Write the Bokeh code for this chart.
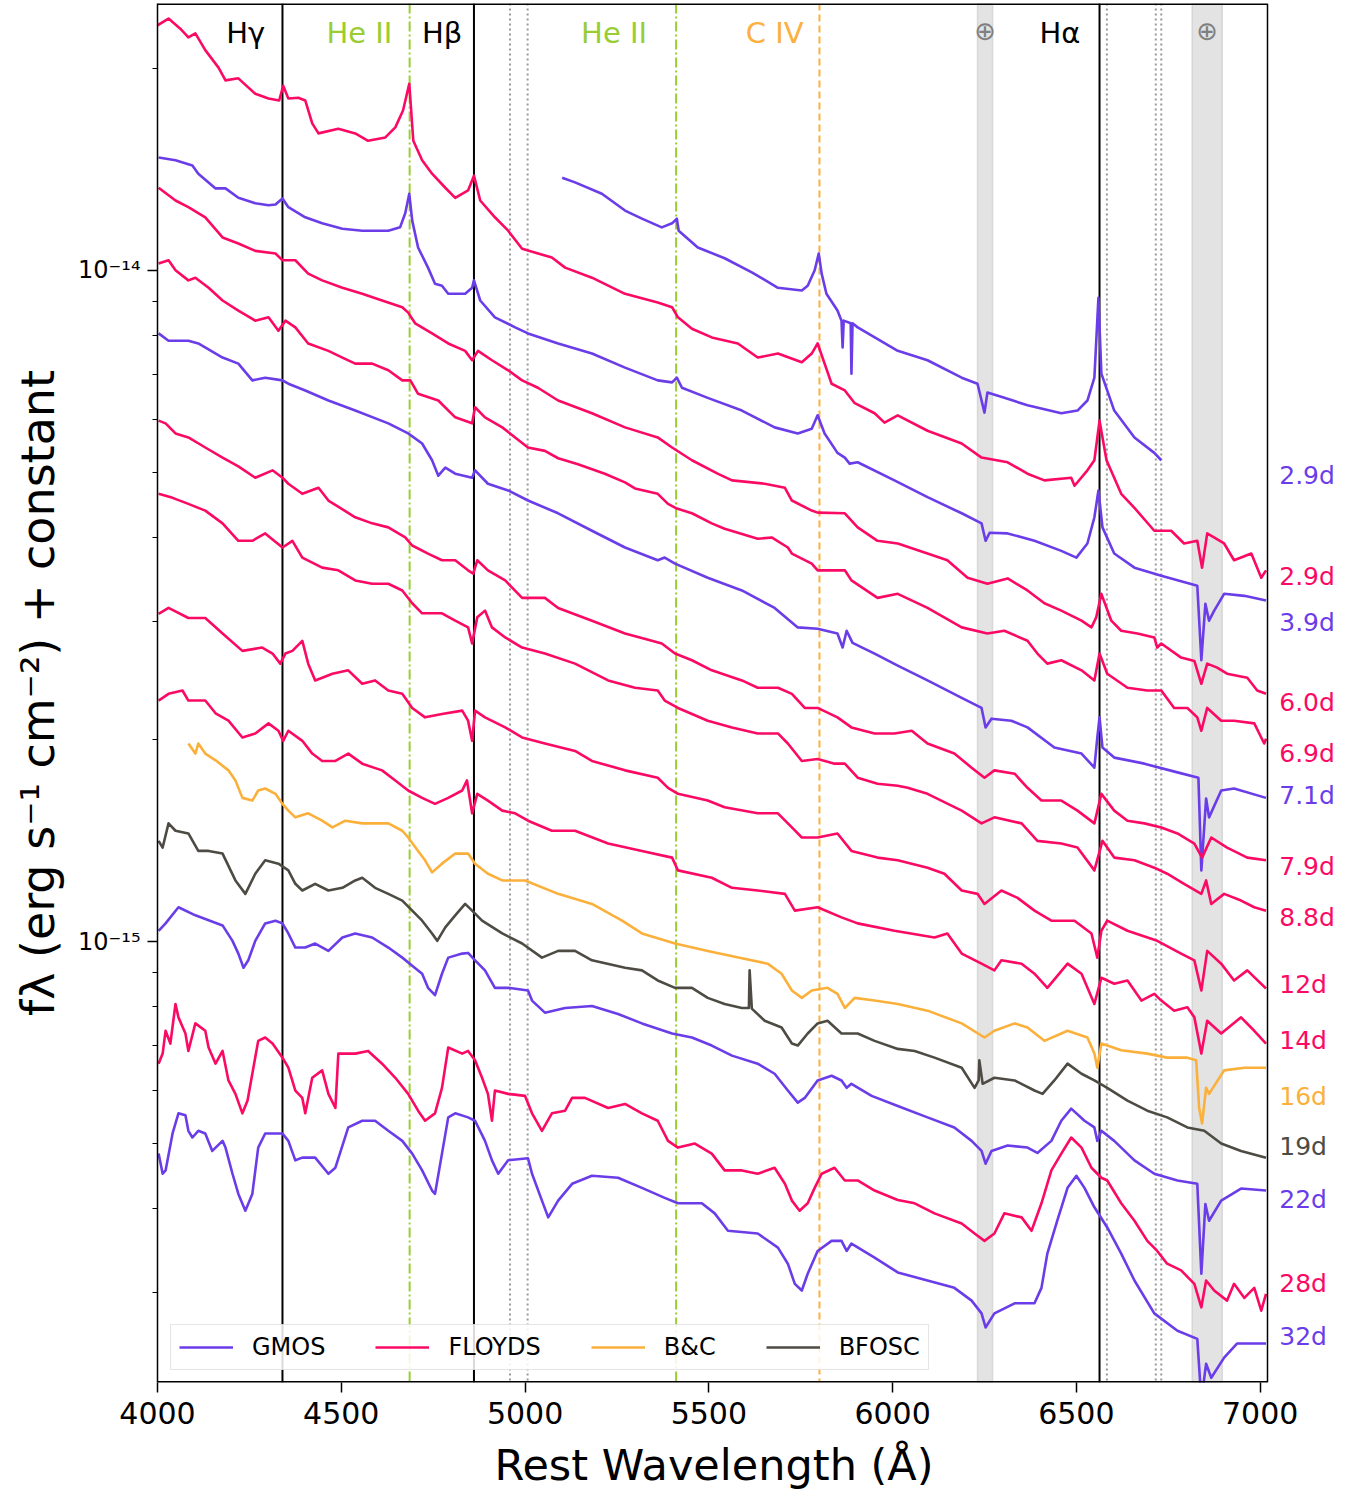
import numpy as np
from bokeh.plotting import figure
from bokeh.models import (Range1d, Span, BoxAnnotation, Label, Legend, LegendItem,
                          FixedTicker, CustomJSTickFormatter, ColumnDataSource)
from bokeh.core.properties import value
from bokeh.embed import file_html
from bokeh.resources import INLINE

# ---- spectra: (rest wavelength [A], log10 f_lambda + constant) ----
gmos_2p9d = [(5101,-13.862),(5136,-13.869),(5209,-13.886),(5272,-13.911),(5318,-13.923),(5372,-13.936),
    (5400,-13.930),(5413,-13.923),(5418,-13.941),(5470,-13.966),(5543,-13.982),(5617,-14.003),(5688,-14.026),
    (5753,-14.030),(5769,-14.023),(5788,-14.000),(5799,-13.975),(5807,-14.005),(5820,-14.035),(5850,-14.060),
    (5861,-14.075),(5864,-14.115),(5867,-14.075),(5886,-14.079),(5888,-14.154),(5891,-14.079),(5905,-14.085),
    (6014,-14.120),(6095,-14.134),(6188,-14.160),(6231,-14.169),(6250,-14.212),(6258,-14.182),(6304,-14.190),
    (6367,-14.201),(6459,-14.213),(6503,-14.209),(6530,-14.194),(6549,-14.160),(6560,-14.041),(6568,-14.154),
    (6603,-14.209),(6658,-14.249),(6712,-14.272),(6731,-14.283)]

floyds_2p9d = [(4000,-13.635),(4030,-13.625),(4062,-13.640),(4084,-13.653),(4103,-13.647),(4130,-13.672),
    (4166,-13.698),(4185,-13.717),(4220,-13.714),(4266,-13.737),(4302,-13.744),(4331,-13.747),(4342,-13.725),
    (4356,-13.744),(4383,-13.743),(4402,-13.747),(4421,-13.781),(4438,-13.796),(4492,-13.789),(4538,-13.796),
    (4573,-13.807),(4620,-13.802),(4647,-13.787),(4668,-13.762),(4685,-13.722),(4696,-13.807),(4720,-13.836),
    (4747,-13.856),(4783,-13.877),(4810,-13.892),(4845,-13.881),(4861,-13.859),(4878,-13.896),(4918,-13.921),
    (4954,-13.941),(4992,-13.968),(5073,-13.981),(5109,-13.996),(5182,-14.011),(5272,-14.035),(5361,-14.048),
    (5400,-14.055),(5416,-14.070),(5454,-14.087),(5508,-14.100),(5579,-14.109),(5633,-14.130),(5688,-14.124),
    (5753,-14.137),(5780,-14.124),(5796,-14.109),(5815,-14.139),(5834,-14.169),(5870,-14.179),(5897,-14.198),
    (5951,-14.213),(5978,-14.227),(6014,-14.216),(6095,-14.239),(6188,-14.258),(6242,-14.279),(6313,-14.286),
    (6367,-14.303),(6413,-14.313),(6486,-14.309),(6495,-14.321),(6530,-14.298),(6549,-14.283),(6563,-14.224),
    (6582,-14.283),(6622,-14.333),(6658,-14.354),(6712,-14.388),(6758,-14.388),(6793,-14.407),(6829,-14.403),
    (6842,-14.443),(6856,-14.392),(6902,-14.407),(6929,-14.432),(6976,-14.422),(7003,-14.458),(7016,-14.447)]

gmos_3p9d = [(4003,-13.832),(4049,-13.836),(4095,-13.844),(4111,-13.856),(4158,-13.878),(4185,-13.878),
    (4220,-13.892),(4266,-13.900),(4302,-13.903),(4321,-13.902),(4340,-13.893),(4356,-13.906),(4402,-13.921),
    (4448,-13.930),(4503,-13.938),(4557,-13.941),(4628,-13.941),(4660,-13.936),(4674,-13.915),(4685,-13.886),
    (4693,-13.926),(4709,-13.966),(4736,-13.996),(4755,-14.020),(4774,-14.023),(4791,-14.035),(4837,-14.035),
    (4856,-14.026),(4861,-14.015),(4878,-14.045),(4918,-14.070),(4973,-14.085),(5008,-14.094),(5090,-14.109),
    (5182,-14.124),(5272,-14.145),(5361,-14.164),(5400,-14.167),(5413,-14.160),(5427,-14.175),(5497,-14.190),
    (5590,-14.209),(5679,-14.234),(5742,-14.243),(5780,-14.236),(5796,-14.216),(5815,-14.243),(5850,-14.272),
    (5870,-14.279),(5883,-14.288),(5905,-14.286),(6005,-14.313),(6095,-14.338),(6188,-14.362),(6242,-14.377),
    (6253,-14.403),(6264,-14.391),(6313,-14.392),(6386,-14.403),(6459,-14.418),(6500,-14.428),(6530,-14.407),
    (6549,-14.368),(6560,-14.328),(6571,-14.383),(6603,-14.422),(6658,-14.443),(6731,-14.455),(6829,-14.470),
    (6840,-14.581),(6851,-14.497),(6861,-14.522),(6875,-14.507),(6902,-14.482),(6957,-14.485),(7016,-14.492)]

floyds_6p0d = [(4003,-13.877),(4049,-13.896),(4084,-13.906),(4130,-13.921),(4177,-13.951),(4220,-13.960),
    (4266,-13.971),(4321,-13.975),(4340,-13.985),(4375,-13.985),(4410,-14.005),(4448,-14.015),(4503,-14.026),
    (4557,-14.035),(4611,-14.045),(4666,-14.055),(4682,-14.063),(4701,-14.079),(4747,-14.094),(4791,-14.109),
    (4837,-14.120),(4856,-14.134),(4872,-14.120),(4910,-14.134),(4954,-14.149),(4992,-14.164),(5035,-14.175),
    (5090,-14.194),(5182,-14.213),(5272,-14.234),(5361,-14.249),(5400,-14.264),(5454,-14.283),(5524,-14.303),
    (5563,-14.313),(5652,-14.318),(5707,-14.324),(5726,-14.343),(5780,-14.358),(5796,-14.361),(5870,-14.362),
    (5905,-14.383),(5959,-14.403),(6014,-14.407),(6095,-14.422),(6149,-14.432),(6204,-14.458),(6258,-14.467),
    (6313,-14.459),(6367,-14.477),(6413,-14.496),(6459,-14.507),(6514,-14.522),(6541,-14.532),(6554,-14.517),
    (6568,-14.482),(6595,-14.522),(6622,-14.537),(6666,-14.541),(6712,-14.547),(6720,-14.562),(6731,-14.556),
    (6785,-14.577),(6821,-14.582),(6840,-14.616),(6856,-14.586),(6883,-14.592),(6910,-14.601),(6965,-14.607),
    (6992,-14.626),(7016,-14.631)]

floyds_6p9d = [(4003,-13.990),(4030,-13.985),(4049,-14.000),(4084,-14.015),(4103,-14.011),(4139,-14.026),
    (4177,-14.045),(4220,-14.060),(4266,-14.075),(4302,-14.070),(4329,-14.090),(4348,-14.075),(4375,-14.085),
    (4410,-14.109),(4465,-14.120),(4503,-14.130),(4538,-14.139),(4584,-14.139),(4628,-14.149),(4666,-14.164),
    (4688,-14.164),(4709,-14.184),(4764,-14.194),(4810,-14.219),(4856,-14.228),(4864,-14.204),(4891,-14.219),
    (4938,-14.234),(4973,-14.249),(5008,-14.264),(5054,-14.269),(5090,-14.280),(5144,-14.289),(5217,-14.303),
    (5272,-14.316),(5299,-14.325),(5361,-14.333),(5389,-14.348),(5413,-14.355),(5454,-14.362),(5508,-14.377),
    (5543,-14.385),(5633,-14.400),(5671,-14.398),(5715,-14.413),(5726,-14.422),(5780,-14.437),(5796,-14.447),
    (5870,-14.447),(5888,-14.462),(5959,-14.488),(6014,-14.482),(6095,-14.503),(6188,-14.532),(6258,-14.541),
    (6304,-14.537),(6367,-14.552),(6394,-14.571),(6421,-14.586),(6459,-14.581),(6514,-14.596),(6549,-14.611),
    (6563,-14.571),(6584,-14.601),(6639,-14.622),(6693,-14.626),(6731,-14.626),(6766,-14.652),(6802,-14.652),
    (6829,-14.666),(6840,-14.686),(6856,-14.652),(6894,-14.671),(6929,-14.671),(6984,-14.675),(7011,-14.705),
    (7016,-14.698)]

gmos_7p1d = [(4003,-14.094),(4030,-14.105),(4084,-14.105),(4111,-14.109),(4177,-14.130),(4220,-14.139),
    (4258,-14.164),(4293,-14.160),(4340,-14.164),(4356,-14.169),(4402,-14.179),(4465,-14.194),(4538,-14.209),
    (4628,-14.228),(4682,-14.243),(4720,-14.258),(4747,-14.283),(4764,-14.306),(4783,-14.294),(4810,-14.303),
    (4856,-14.309),(4864,-14.298),(4899,-14.318),(4954,-14.328),(5008,-14.343),(5090,-14.362),(5182,-14.388),
    (5272,-14.413),(5361,-14.432),(5380,-14.428),(5408,-14.437),(5497,-14.458),(5590,-14.477),(5679,-14.503),
    (5742,-14.532),(5796,-14.534),(5850,-14.541),(5864,-14.562),(5875,-14.537),(5891,-14.555),(5951,-14.571),
    (6014,-14.589),(6095,-14.611),(6188,-14.637),(6242,-14.652),(6253,-14.681),(6269,-14.668),(6323,-14.671),
    (6367,-14.681),(6440,-14.711),(6514,-14.720),(6549,-14.741),(6557,-14.696),(6563,-14.666),(6571,-14.711),
    (6603,-14.726),(6685,-14.735),(6775,-14.748),(6832,-14.756),(6840,-14.894),(6853,-14.787),(6861,-14.815),
    (6894,-14.775),(6929,-14.772),(7016,-14.786)]

floyds_7p9d = [(4003,-14.224),(4022,-14.228),(4049,-14.243),(4084,-14.249),(4130,-14.264),(4177,-14.279),
    (4220,-14.292),(4266,-14.309),(4313,-14.298),(4340,-14.309),(4356,-14.318),(4394,-14.333),(4438,-14.324),
    (4465,-14.343),(4538,-14.368),(4584,-14.377),(4628,-14.383),(4674,-14.398),(4693,-14.410),(4736,-14.422),
    (4774,-14.432),(4810,-14.432),(4845,-14.447),(4859,-14.452),(4870,-14.432),(4899,-14.447),(4946,-14.462),
    (4992,-14.488),(5054,-14.488),(5090,-14.503),(5182,-14.522),(5272,-14.541),(5345,-14.552),(5372,-14.556),
    (5408,-14.571),(5454,-14.581),(5508,-14.596),(5590,-14.611),(5633,-14.622),(5688,-14.622),(5726,-14.631),
    (5761,-14.652),(5796,-14.652),(5850,-14.666),(5888,-14.681),(5951,-14.690),(6005,-14.690),(6052,-14.686),
    (6095,-14.705),(6168,-14.720),(6215,-14.741),(6250,-14.756),(6277,-14.745),(6332,-14.750),(6367,-14.771),
    (6405,-14.790),(6459,-14.790),(6503,-14.805),(6549,-14.824),(6568,-14.780),(6603,-14.805),(6639,-14.820),
    (6685,-14.824),(6731,-14.830),(6775,-14.839),(6821,-14.854),(6842,-14.875),(6867,-14.845),(6910,-14.860),
    (6965,-14.875),(7016,-14.879)]

floyds_8p8d = [(4003,-14.333),(4041,-14.339),(4084,-14.348),(4130,-14.358),(4177,-14.377),(4220,-14.403),
    (4258,-14.403),(4293,-14.392),(4340,-14.413),(4367,-14.403),(4394,-14.428),(4448,-14.443),(4492,-14.447),
    (4538,-14.462),(4584,-14.467),(4628,-14.467),(4666,-14.477),(4693,-14.496),(4720,-14.511),(4774,-14.511),
    (4810,-14.522),(4845,-14.532),(4856,-14.556),(4870,-14.517),(4891,-14.507),(4910,-14.532),(4946,-14.547),
    (4992,-14.562),(5054,-14.571),(5136,-14.586),(5226,-14.611),(5299,-14.622),(5361,-14.626),(5380,-14.641),
    (5416,-14.652),(5497,-14.671),(5563,-14.681),(5633,-14.690),(5688,-14.690),(5715,-14.705),(5753,-14.731),
    (5796,-14.728),(5842,-14.735),(5870,-14.735),(5905,-14.756),(5959,-14.765),(6014,-14.768),(6041,-14.771),
    (6095,-14.780),(6188,-14.805),(6242,-14.824),(6277,-14.815),(6351,-14.824),(6394,-14.850),(6459,-14.854),
    (6503,-14.860),(6549,-14.894),(6571,-14.850),(6603,-14.875),(6658,-14.879),(6712,-14.890),(6747,-14.899),
    (6793,-14.914),(6840,-14.929),(6853,-14.909),(6867,-14.944),(6902,-14.929),(6948,-14.939),(6984,-14.949),
    (7016,-14.954)]

floyds_12d = [(4003,-14.512),(4030,-14.503),(4084,-14.518),(4130,-14.518),(4177,-14.541),(4231,-14.567),
    (4285,-14.562),(4313,-14.571),(4334,-14.586),(4348,-14.571),(4367,-14.567),(4394,-14.552),(4410,-14.586),
    (4429,-14.611),(4476,-14.601),(4519,-14.596),(4557,-14.616),(4592,-14.611),(4628,-14.626),(4666,-14.631),
    (4693,-14.652),(4728,-14.666),(4774,-14.661),(4829,-14.656),(4845,-14.671),(4856,-14.701),(4864,-14.656),
    (4891,-14.666),(4946,-14.681),(4992,-14.696),(5054,-14.705),(5136,-14.716),(5182,-14.731),(5272,-14.745),
    (5361,-14.756),(5389,-14.771),(5416,-14.780),(5497,-14.790),(5543,-14.800),(5633,-14.809),(5688,-14.809),
    (5726,-14.830),(5753,-14.845),(5796,-14.845),(5850,-14.839),(5888,-14.865),(5959,-14.875),(6014,-14.879),
    (6095,-14.890),(6141,-14.899),(6188,-14.924),(6231,-14.929),(6250,-14.944),(6296,-14.924),(6340,-14.935),
    (6386,-14.954),(6432,-14.969),(6495,-14.969),(6541,-14.988),(6557,-15.024),(6568,-14.984),(6584,-14.969),
    (6639,-14.984),(6720,-14.999),(6785,-15.018),(6821,-15.028),(6840,-15.073),(6856,-15.014),(6894,-15.033),
    (6929,-15.058),(6965,-15.043),(7016,-15.070)]

floyds_14d = [(4003,-14.641),(4030,-14.631),(4068,-14.626),(4084,-14.641),(4130,-14.641),(4158,-14.660),
    (4193,-14.671),(4231,-14.696),(4266,-14.690),(4302,-14.675),(4329,-14.686),(4342,-14.701),(4356,-14.686),
    (4394,-14.701),(4421,-14.720),(4448,-14.731),(4484,-14.731),(4519,-14.720),(4557,-14.735),(4611,-14.745),
    (4647,-14.760),(4682,-14.775),(4720,-14.786),(4755,-14.795),(4791,-14.786),(4829,-14.775),(4842,-14.760),
    (4856,-14.809),(4870,-14.780),(4899,-14.790),(4938,-14.805),(4973,-14.809),(5008,-14.820),(5073,-14.835),
    (5136,-14.835),(5226,-14.854),(5318,-14.865),(5400,-14.875),(5416,-14.894),(5508,-14.905),(5563,-14.920),
    (5633,-14.924),(5707,-14.929),(5734,-14.954),(5796,-14.949),(5861,-14.964),(5905,-14.973),(6005,-14.984),
    (6114,-14.994),(6149,-14.988),(6188,-15.018),(6242,-15.033),(6277,-15.043),(6296,-15.028),(6351,-15.033),
    (6386,-15.048),(6421,-15.069),(6476,-15.033),(6514,-15.048),(6549,-15.093),(6568,-15.054),(6603,-15.063),
    (6639,-15.058),(6677,-15.088),(6712,-15.078),(6731,-15.088),(6766,-15.103),(6802,-15.098),(6821,-15.113),
    (6840,-15.167),(6856,-15.118),(6894,-15.137),(6948,-15.113),(6984,-15.133),(7016,-15.152)]

bc_16d = [(4084,-14.705),(4103,-14.720),(4111,-14.705),(4130,-14.720),(4158,-14.730),(4193,-14.745),
    (4212,-14.760),(4231,-14.786),(4258,-14.790),(4274,-14.775),(4293,-14.772),(4321,-14.780),(4340,-14.795),
    (4356,-14.805),(4375,-14.815),(4410,-14.809),(4448,-14.820),(4476,-14.830),(4511,-14.820),(4557,-14.824),
    (4628,-14.824),(4666,-14.835),(4682,-14.845),(4709,-14.865),(4728,-14.879),(4747,-14.897),(4774,-14.884),
    (4810,-14.869),(4845,-14.869),(4864,-14.884),(4899,-14.899),(4938,-14.909),(5000,-14.909),(5090,-14.929),
    (5182,-14.944),(5264,-14.969),(5318,-14.988),(5408,-15.003),(5497,-15.014),(5590,-15.025),(5660,-15.033),
    (5698,-15.048),(5726,-15.073),(5753,-15.084),(5780,-15.073),(5823,-15.069),(5850,-15.078),(5870,-15.099),
    (5897,-15.084),(5951,-15.088),(6014,-15.093),(6095,-15.103),(6188,-15.122),(6250,-15.143),(6277,-15.133),
    (6332,-15.122),(6367,-15.128),(6413,-15.148),(6476,-15.133),(6530,-15.143),(6549,-15.167),(6557,-15.188),
    (6568,-15.152),(6622,-15.162),(6693,-15.167),(6747,-15.173),(6802,-15.173),(6826,-15.177),(6834,-15.248),
    (6842,-15.271),(6853,-15.218),(6861,-15.227),(6902,-15.192),(6957,-15.188),(7016,-15.188)]

bfosc_19d = [(4003,-14.850),(4014,-14.860),(4030,-14.824),(4049,-14.835),(4084,-14.839),(4111,-14.865),
    (4139,-14.865),(4177,-14.869),(4212,-14.909),(4239,-14.929),(4266,-14.899),(4293,-14.879),(4329,-14.884),
    (4356,-14.894),(4375,-14.914),(4394,-14.924),(4429,-14.914),(4465,-14.924),(4503,-14.920),(4538,-14.909),
    (4557,-14.905),(4592,-14.920),(4628,-14.929),(4666,-14.939),(4693,-14.954),(4720,-14.969),(4747,-14.988),
    (4761,-14.999),(4783,-14.979),(4810,-14.961),(4837,-14.944),(4856,-14.954),(4883,-14.969),(4938,-14.988),
    (4992,-15.003),(5046,-15.024),(5090,-15.014),(5136,-15.014),(5182,-15.028),(5272,-15.039),(5318,-15.043),
    (5361,-15.058),(5408,-15.069),(5454,-15.069),(5497,-15.084),(5543,-15.093),(5590,-15.099),(5609,-15.099),
    (5611,-15.043),(5617,-15.100),(5652,-15.118),(5698,-15.128),(5726,-15.152),(5742,-15.155),(5769,-15.137),
    (5796,-15.122),(5823,-15.118),(5861,-15.137),(5905,-15.137),(5951,-15.148),(6014,-15.160),(6060,-15.163),
    (6114,-15.173),(6188,-15.188),(6223,-15.218),(6234,-15.207),(6236,-15.177),(6245,-15.212),(6277,-15.203),
    (6332,-15.207),(6386,-15.222),(6408,-15.227),(6440,-15.207),(6476,-15.182),(6514,-15.197),(6549,-15.207),
    (6584,-15.218),(6639,-15.237),(6693,-15.252),(6747,-15.262),(6802,-15.277),(6848,-15.282),(6894,-15.301),
    (6948,-15.312),(7016,-15.322)]

gmos_22d = [(4003,-14.984),(4022,-14.973),(4057,-14.949),(4103,-14.961),(4177,-14.976),(4204,-14.999),
    (4220,-15.018),(4234,-15.039),(4247,-15.028),(4266,-14.999),(4293,-14.973),(4321,-14.969),(4340,-14.973),
    (4356,-14.988),(4375,-15.009),(4402,-15.009),(4429,-15.003),(4465,-15.014),(4503,-14.994),(4538,-14.988),
    (4584,-14.994),(4628,-15.009),(4666,-15.024),(4693,-15.036),(4720,-15.048),(4736,-15.069),(4755,-15.080),
    (4774,-15.048),(4791,-15.024),(4829,-15.018),(4845,-15.017),(4864,-15.028),(4891,-15.043),(4918,-15.069),
    (4954,-15.069),(5008,-15.073),(5019,-15.088),(5054,-15.106),(5109,-15.099),(5182,-15.096),(5253,-15.108),
    (5318,-15.122),(5400,-15.137),(5454,-15.143),(5508,-15.155),(5563,-15.170),(5633,-15.182),(5679,-15.197),
    (5715,-15.222),(5742,-15.240),(5761,-15.233),(5796,-15.207),(5834,-15.200),(5861,-15.207),(5875,-15.218),
    (5888,-15.212),(5943,-15.230),(6014,-15.245),(6095,-15.262),(6168,-15.277),(6215,-15.297),(6242,-15.312),
    (6253,-15.331),(6269,-15.312),(6313,-15.304),(6367,-15.307),(6394,-15.315),(6432,-15.297),(6459,-15.267),
    (6486,-15.249),(6522,-15.267),(6549,-15.277),(6557,-15.297),(6568,-15.282),(6603,-15.297),(6658,-15.326),
    (6712,-15.346),(6775,-15.356),(6829,-15.361),(6840,-15.495),(6851,-15.391),(6861,-15.416),(6894,-15.386),
    (6948,-15.368),(7016,-15.371)]

floyds_28d = [(4003,-15.182),(4014,-15.167),(4022,-15.133),(4035,-15.152),(4049,-15.093),(4057,-15.113),
    (4076,-15.137),(4084,-15.163),(4103,-15.122),(4130,-15.133),(4139,-15.158),(4158,-15.182),(4177,-15.163),
    (4193,-15.207),(4212,-15.227),(4231,-15.256),(4245,-15.237),(4258,-15.197),(4274,-15.148),(4293,-15.143),
    (4313,-15.152),(4340,-15.173),(4356,-15.188),(4375,-15.222),(4394,-15.233),(4402,-15.256),(4421,-15.203),
    (4448,-15.192),(4465,-15.227),(4484,-15.248),(4492,-15.167),(4538,-15.167),(4573,-15.163),(4611,-15.182),
    (4647,-15.203),(4682,-15.227),(4709,-15.252),(4728,-15.267),(4755,-15.256),(4774,-15.218),(4791,-15.158),
    (4829,-15.167),(4845,-15.163),(4864,-15.177),(4883,-15.203),(4899,-15.227),(4910,-15.267),(4918,-15.222),
    (4954,-15.227),(5000,-15.230),(5019,-15.256),(5046,-15.282),(5073,-15.256),(5109,-15.252),(5128,-15.233),
    (5163,-15.233),(5226,-15.248),(5272,-15.242),(5318,-15.256),(5361,-15.267),(5389,-15.297),(5416,-15.307),
    (5462,-15.301),(5508,-15.316),(5543,-15.341),(5590,-15.341),(5633,-15.346),(5679,-15.337),(5707,-15.361),
    (5726,-15.386),(5747,-15.401),(5769,-15.390),(5788,-15.367),(5807,-15.346),(5842,-15.337),(5870,-15.356),
    (5905,-15.356),(5951,-15.371),(6014,-15.385),(6060,-15.390),(6114,-15.405),(6188,-15.420),(6223,-15.435),
    (6250,-15.446),(6277,-15.435),(6304,-15.405),(6351,-15.411),(6378,-15.431),(6405,-15.390),(6432,-15.341),
    (6459,-15.316),(6486,-15.292),(6514,-15.307),(6541,-15.337),(6568,-15.352),(6584,-15.356),(6622,-15.390),
    (6658,-15.416),(6693,-15.446),(6720,-15.461),(6747,-15.480),(6785,-15.490),(6821,-15.510),(6840,-15.545),
    (6853,-15.505),(6875,-15.520),(6910,-15.535),(6929,-15.510),(6957,-15.531),(6984,-15.516),(7003,-15.550),
    (7016,-15.525)]

gmos_32d = [(4003,-15.316),(4014,-15.346),(4022,-15.341),(4041,-15.286),(4057,-15.256),(4076,-15.259),
    (4084,-15.282),(4095,-15.292),(4111,-15.282),(4130,-15.286),(4149,-15.312),(4177,-15.297),(4185,-15.307),
    (4204,-15.346),(4220,-15.376),(4239,-15.401),(4258,-15.376),(4274,-15.307),(4293,-15.286),(4340,-15.286),
    (4356,-15.297),(4375,-15.326),(4394,-15.322),(4429,-15.322),(4465,-15.346),(4484,-15.337),(4519,-15.277),
    (4557,-15.267),(4592,-15.267),(4628,-15.282),(4666,-15.297),(4693,-15.316),(4720,-15.341),(4747,-15.371),
    (4755,-15.376),(4774,-15.316),(4791,-15.262),(4810,-15.256),(4845,-15.262),(4864,-15.267),(4891,-15.297),
    (4910,-15.326),(4927,-15.346),(4954,-15.326),(5008,-15.323),(5019,-15.346),(5046,-15.386),(5063,-15.411),
    (5090,-15.386),(5128,-15.361),(5182,-15.349),(5253,-15.352),(5318,-15.367),(5380,-15.382),(5416,-15.390),
    (5481,-15.390),(5516,-15.405),(5552,-15.431),(5633,-15.435),(5688,-15.456),(5715,-15.480),(5734,-15.510),
    (5753,-15.520),(5769,-15.495),(5796,-15.461),(5834,-15.446),(5861,-15.446),(5875,-15.461),(5888,-15.450),
    (5951,-15.471),(6014,-15.493),(6095,-15.505),(6168,-15.516),(6215,-15.535),(6242,-15.554),(6253,-15.575),
    (6277,-15.554),(6332,-15.539),(6386,-15.539),(6405,-15.516),(6421,-15.465),(6448,-15.416),(6476,-15.367),
    (6500,-15.349),(6522,-15.367),(6549,-15.396),(6584,-15.426),(6622,-15.465),(6658,-15.505),(6712,-15.554),
    (6775,-15.580),(6829,-15.592),(6840,-15.684),(6853,-15.629),(6867,-15.650),(6902,-15.620),(6937,-15.599),
    (7016,-15.599)]

# instrument, epoch label, spectrum, log10 flux of the epoch label
spectra = [
    ("GMOS", "2.9d", gmos_2p9d, -14.306),
    ("FLOYDS", "2.9d", floyds_2p9d, -14.456),
    ("GMOS", "3.9d", gmos_3p9d, -14.525),
    ("FLOYDS", "6.0d", floyds_6p0d, -14.644),
    ("FLOYDS", "6.9d", floyds_6p9d, -14.720),
    ("GMOS", "7.1d", gmos_7p1d, -14.783),
    ("FLOYDS", "7.9d", floyds_7p9d, -14.888),
    ("FLOYDS", "8.8d", floyds_8p8d, -14.964),
    ("FLOYDS", "12d", floyds_12d, -15.064),
    ("FLOYDS", "14d", floyds_14d, -15.148),
    ("B&C", "16d", bc_16d, -15.231),
    ("BFOSC", "19d", bfosc_19d, -15.306),
    ("GMOS", "22d", gmos_22d, -15.385),
    ("FLOYDS", "28d", floyds_28d, -15.510),
    ("GMOS", "32d", gmos_32d, -15.589),
]

instruments = ["GMOS", "FLOYDS", "B&C", "BFOSC"]
inst_colors = {"GMOS": "#6a3de8", "FLOYDS": "#fa0a64", "B&C": "#fbb03b", "BFOSC": "#4d4b43"}

# line identifications
balmer_lines = [4340, 4861, 6563]
heii_lines = [4686, 5411]
civ_lines = [5801]
forbidden_lines = [4959, 5007, 6583, 6716, 6731]
telluric_bands = [(6231, 6272), (6815, 6897)]
line_texts = [("H\u03b3", 4293, "black"), ("He II", 4639, "#9acd32"), ("H\u03b2", 4829, "black"),
              ("He II", 5332, "#9acd32"), ("C IV", 5758, "#fbb040"), ("H\u03b1", 6511, "black")]
telluric_marks = [6252, 6856]

x_lo, x_hi = 4000, 7020          # wavelength limits of the axes box
y_lo, y_hi = 10 ** -15.657, 10 ** -13.6025
x_ticks = [4000, 4500, 5000, 5500, 6000, 6500, 7000]
y_major = [1e-15, 1e-14]
y_minor = [3e-16, 4e-16, 5e-16, 6e-16, 7e-16, 8e-16, 9e-16,
           2e-15, 3e-15, 4e-15, 5e-15, 6e-15, 7e-15, 8e-15, 9e-15, 2e-14]

FONT = "DejaVu Sans"
BOX_W, EXTRA_W = 1110, 85      # axes box width and label margin to its right (px)
x_view_hi = x_lo + (x_hi - x_lo) * (BOX_W + EXTRA_W) / BOX_W

p = figure(frame_width=BOX_W + EXTRA_W, frame_height=1379, y_axis_type="log",
           x_range=Range1d(x_lo, x_view_hi), y_range=Range1d(y_lo, y_hi),
           output_backend="svg", toolbar_location=None,
           min_border_left=157, min_border_right=4, min_border_top=3, min_border_bottom=114)
p.background_fill_color = "white"
p.border_fill_color = "white"
p.outline_line_color = None
p.grid.grid_line_color = None

# bands and lines behind the spectra
for lo, hi in telluric_bands:
    p.add_layout(BoxAnnotation(left=lo, right=hi, fill_color="#d4d4d4", fill_alpha=0.65,
                               line_color="#c8c8c8", line_alpha=0.6, line_width=1.5, level="underlay"))
for w in balmer_lines:
    p.add_layout(Span(location=w, dimension="height", line_color="black", line_width=2, level="underlay"))
for w in heii_lines:
    p.add_layout(Span(location=w, dimension="height", line_color="#9acd32", line_width=2,
                      line_dash="10 3 2 3", level="underlay"))
for w in civ_lines:
    p.add_layout(Span(location=w, dimension="height", line_color="#fbb040", line_width=2,
                      line_dash="7 4", level="underlay"))
for w in forbidden_lines:
    p.add_layout(Span(location=w, dimension="height", line_color="#999999", line_width=2,
                      line_dash="2 3", level="underlay"))

first_renderer = {}
lab_src = dict(x=[], y=[], text=[], color=[])
for inst, epoch, spec, lab_y in spectra:
    wl = np.array([s[0] for s in spec], dtype=float)
    fl = 10 ** np.array([s[1] for s in spec], dtype=float)
    r = p.line(wl, fl, line_color=inst_colors[inst], line_width=2.6, line_join="round")
    first_renderer.setdefault(inst, r)
    lab_src["x"].append(7052)
    lab_src["y"].append(10 ** lab_y)
    lab_src["text"].append(epoch)
    lab_src["color"].append(inst_colors[inst])

p.text(x="x", y="y", text="text", text_color="color", source=ColumnDataSource(lab_src),
       text_align="left", text_baseline="middle", text_font=value(FONT), text_font_size="25px")

# box edges (top, bottom, right); left edge is the y axis line
p.segment(x0=[x_lo, x_lo], x1=[x_hi, x_hi], y0=[y_hi, y_lo], y1=[y_hi, y_lo],
          line_color="black", line_width=3)
p.segment(x0=[x_hi], x1=[x_hi], y0=[y_lo], y1=[y_hi], line_color="black", line_width=1.5)

for txt, xpos, col in line_texts:
    p.add_layout(Label(x=xpos, y=10 ** -13.646, text=txt, text_align="right", text_baseline="middle",
                       text_font=FONT, text_font_size="29px", text_color=col))
for xpos in telluric_marks:
    p.add_layout(Label(x=xpos, y=10 ** -13.643, text="\u2295", text_align="center", text_baseline="middle",
                       text_font=FONT, text_font_size="26px", text_color="#808080"))

legend = Legend(items=[LegendItem(label=i, renderers=[first_renderer[i]]) for i in instruments],
                orientation="horizontal", location=(13, 12))
legend.label_text_font = FONT
legend.label_text_font_size = "24px"
legend.label_text_color = "black"
legend.glyph_width = 54
legend.glyph_height = 24
legend.label_height = 24
legend.label_standoff = 19
legend.spacing = 50
legend.padding = 8
legend.margin = 0
legend.border_line_color = "#cccccc"
legend.border_line_width = 1.5
legend.background_fill_alpha = 0.85
p.add_layout(legend)

# axes; the x label is padded on the right so it centres under the axes box, not the label margin
p.xaxis.ticker = FixedTicker(ticks=x_ticks)
p.xaxis.axis_label = "Rest Wavelength (\u00c5)" + "\u00a0" * 6
p.yaxis.ticker = FixedTicker(ticks=y_major, minor_ticks=y_minor)
p.yaxis.axis_label = "f\u03bb (erg s\u207b\u00b9 cm\u207b\u00b2) + constant"
p.yaxis.formatter = CustomJSTickFormatter(code="""
const e = Math.round(Math.log10(tick));
const m = {'-':'\u207b','0':'\u2070','1':'\u00b9','2':'\u00b2','3':'\u00b3','4':'\u2074',
           '5':'\u2075','6':'\u2076','7':'\u2077','8':'\u2078','9':'\u2079'};
return '10' + String(e).split('').map(c => m[c]).join('');
""")
for ax in (p.xaxis[0], p.yaxis[0]):
    ax.axis_line_color = "black"
    ax.axis_line_width = 1.5
    ax.major_tick_line_color = "black"
    ax.major_tick_line_width = 1.5
    ax.major_tick_out = 10
    ax.major_tick_in = 0
    ax.minor_tick_line_color = "black"
    ax.minor_tick_line_width = 1.2
    ax.minor_tick_out = 5
    ax.minor_tick_in = 0
    ax.major_label_text_font = FONT
    ax.major_label_text_color = "black"
    ax.axis_label_text_font = FONT
    ax.axis_label_text_color = "black"
    ax.axis_label_text_font_style = "normal"
p.xaxis.axis_line_color = None
p.xaxis.minor_tick_line_color = None
p.xaxis.major_label_text_font_size = "30px"
p.xaxis.major_label_standoff = 9
p.xaxis.axis_label_text_font_size = "43px"
p.xaxis.axis_label_standoff = 13
p.yaxis.major_label_text_font_size = "24px"
p.yaxis.major_label_standoff = 7
p.yaxis.axis_label_text_font_size = "46px"
p.yaxis.axis_label_standoff = 10

open("out.html", "w").write(file_html(p, INLINE))
